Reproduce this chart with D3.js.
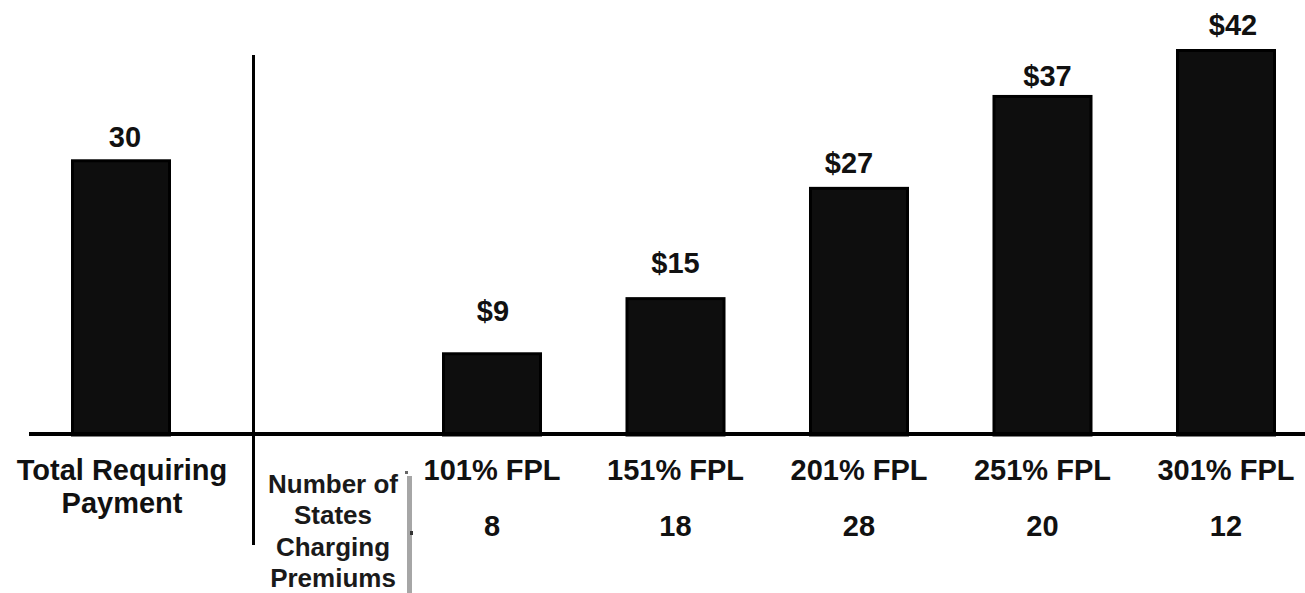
<!DOCTYPE html>
<html>
<head>
<meta charset="utf-8">
<script src="https://cdn.jsdelivr.net/npm/d3@7"></script>
<style>
  html, body { margin: 0; padding: 0; background: #fff; }
  svg { display: block; }
  text { font-family: "Liberation Sans", Arial, sans-serif; font-weight: bold; fill: #111; }
</style>
</head>
<body>
<svg id="chart" width="1305" height="593"></svg>
<script>
// Total (left panel)
const totalCategory = "Total Requiring Payment";
const totalLines = ["Total Requiring", "Payment"];
const totalValue = 30;

// Premium by income level (right panel)
const fplLevels = ["101% FPL", "151% FPL", "201% FPL", "251% FPL", "301% FPL"];
const premiums = [9, 15, 27, 37, 42];
const statesCharging = [8, 18, 28, 20, 12];
const rowHeaderLines = ["Number of", "States", "Charging", "Premiums"];

const svg = d3.select("#chart");
const W = 1305, H = 593;
const baseY = 435;

const y = d3.scaleLinear().domain([0, 42]).range([baseY, 49]);
const xLeft = d3.scaleBand().domain([totalCategory]).range([71, 171]).padding(0);
const x = d3.scaleBand().domain(fplLevels).range([442, 1276]).paddingInner(0.455).paddingOuter(0);

// value label placement relative to its bar (total first, then each FPL level)
const labelLift = [12, 31, 24, 14, 9, 14];
const labelShift = [4, 1, 0, -10, 5, 7];

function drawBar(g, x0, w, v) {
  g.append("rect")
    .attr("x", x0 + 1.5)
    .attr("y", y(v) + 1.5)
    .attr("width", w - 3)
    .attr("height", baseY - y(v) - 1.5)
    .attr("fill", "#0e0e0e")
    .attr("stroke", "#000")
    .attr("stroke-width", 3);
}

const bars = svg.append("g");
drawBar(bars, xLeft(totalCategory), xLeft.bandwidth(), totalValue);
premiums.forEach((v, i) => drawBar(bars, x(fplLevels[i]), x.bandwidth(), v));

// value labels
svg.append("text")
  .attr("x", xLeft(totalCategory) + xLeft.bandwidth() / 2 + labelShift[0])
  .attr("y", y(totalValue) - labelLift[0])
  .attr("text-anchor", "middle")
  .attr("font-size", 29)
  .text(totalValue);

svg.selectAll("text.val")
  .data(premiums)
  .join("text")
  .attr("class", "val")
  .attr("x", (d, i) => x(fplLevels[i]) + x.bandwidth() / 2 + labelShift[i + 1])
  .attr("y", (d, i) => y(d) - labelLift[i + 1])
  .attr("text-anchor", "middle")
  .attr("font-size", 29)
  .text(d => "$" + d);

// baseline
svg.append("line")
  .attr("x1", 29).attr("x2", W)
  .attr("y1", 434).attr("y2", 434)
  .attr("stroke", "#000").attr("stroke-width", 4);

// panel divider
svg.append("line")
  .attr("x1", 253.5).attr("x2", 253.5)
  .attr("y1", 55).attr("y2", 545)
  .attr("stroke", "#000").attr("stroke-width", 3);

// left category label
svg.append("text")
  .attr("text-anchor", "middle")
  .attr("font-size", 29)
  .selectAll("tspan")
  .data(totalLines)
  .join("tspan")
  .attr("x", 122)
  .attr("y", (d, i) => 480 + i * 33)
  .text(d => d);

// FPL category labels
svg.selectAll("text.cat")
  .data(fplLevels)
  .join("text")
  .attr("class", "cat")
  .attr("x", d => x(d) + x.bandwidth() / 2)
  .attr("y", 480)
  .attr("text-anchor", "middle")
  .attr("font-size", 29)
  .text(d => d);

// number of states row
svg.selectAll("text.cnt")
  .data(statesCharging)
  .join("text")
  .attr("class", "cnt")
  .attr("x", (d, i) => x(fplLevels[i]) + x.bandwidth() / 2)
  .attr("y", 536)
  .attr("text-anchor", "middle")
  .attr("font-size", 29)
  .text(d => d);

// row header
svg.append("text")
  .attr("text-anchor", "middle")
  .attr("font-size", 26)
  .style("fill", "#1a1a1a")
  .selectAll("tspan")
  .data(rowHeaderLines)
  .join("tspan")
  .attr("x", 333)
  .attr("y", (d, i) => 493 + i * 31.3)
  .text(d => d);

// bracket beside row header
svg.append("rect")
  .attr("x", 407).attr("y", 476)
  .attr("width", 5).attr("height", H - 476)
  .attr("fill", "#a6a6a6");
svg.append("rect")
  .attr("x", 405).attr("y", 471)
  .attr("width", 3).attr("height", 3)
  .attr("fill", "#666");
svg.append("rect")
  .attr("x", 410).attr("y", 531)
  .attr("width", 3).attr("height", 4)
  .attr("fill", "#333");
</script>
</body>
</html>
